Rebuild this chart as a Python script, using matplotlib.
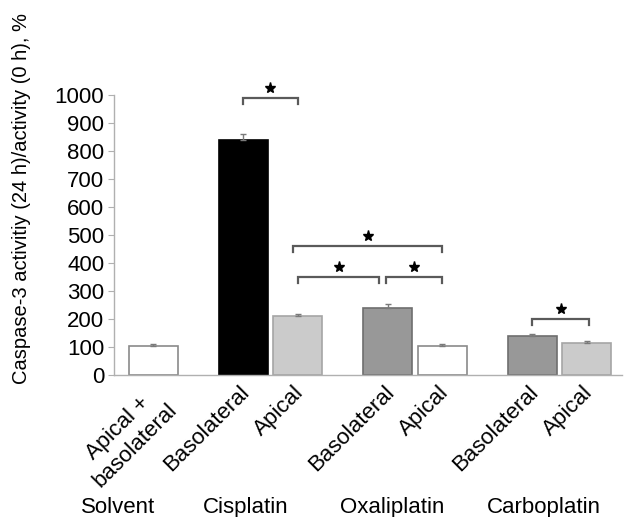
import matplotlib
matplotlib.use("Agg")
import matplotlib.pyplot as plt
import matplotlib.transforms as mtransforms

plt.rcParams['font.family'] = ['Liberation Sans', 'DejaVu Sans']

# ---- data ----
bar_labels = ["Apical +\nbasolateral", "Basolateral", "Apical",
              "Basolateral", "Apical", "Basolateral", "Apical"]
values = [105, 840, 210, 240, 102, 138, 113]
errors = [4, 20, 7, 13, 7, 8, 7]
group_labels = ["Solvent", "Cisplatin", "Oxaliplatin", "Carboplatin"]
yticks = [0, 100, 200, 300, 400, 500, 600, 700, 800, 900, 1000]
# significance brackets: (left bar, right bar, bracket height)
brackets = [(1, 2, 990), (2, 4, 462), (2, 3, 351), (3, 4, 351), (5, 6, 200)]

# ---- styles / layout ----
positions = [0, 1.65, 2.65, 4.3, 5.3, 6.95, 7.95]
face = ["#ffffff", "#000000", "#cbcbcb", "#989898", "#ffffff", "#989898", "#cbcbcb"]
edge = ["#8a8a8a", "#000000", "#a5a5a5", "#6e6e6e", "#8a8a8a", "#6e6e6e", "#a5a5a5"]
group_x = [-0.64, 1.69, 4.39, 7.16]
bracket_insets = [(0.0, 0.0), (-0.08, 0.0), (0.0, -0.15), (-0.03, 0.0), (0.0, 0.05)]

W, H = 632, 517
fig = plt.figure(figsize=(W / 100, H / 100), dpi=100)
ax = fig.add_axes([114 / W, 1 - 375 / H, (622 - 114) / W, 280 / H])

ax.bar(positions, values, width=0.9, color=face, edgecolor=edge, linewidth=1.2,
       zorder=2)
ax.errorbar(positions, values, yerr=[[0] * len(values), errors], fmt='none',
            ecolor="#7a7a7a", elinewidth=1.0, capsize=2.5, capthick=1.0, zorder=3)

ax.set_xlim(-0.72, 8.6)
ax.set_ylim(0, 1000)
ax.set_yticks(yticks)
ax.set_yticklabels([str(t) for t in yticks], fontsize=16)
ax.tick_params(axis='y', length=4, width=0.8, color="#b0b0b0", pad=3)
ax.set_xticks(positions)
ax.set_xticklabels([])
ax.tick_params(axis='x', length=0)
for s in ['top', 'right']:
    ax.spines[s].set_visible(False)
for s in ['left', 'bottom']:
    ax.spines[s].set_color("#b0b0b0")
    ax.spines[s].set_linewidth(1.0)

# rotated category labels
off = mtransforms.ScaledTranslation(-3 / 72, -5 / 72, fig.dpi_scale_trans)
for p, lab in zip(positions, bar_labels):
    ax.text(p, 0, lab, rotation=45, rotation_mode='anchor', ha='right', va='top',
            multialignment='center', fontsize=16,
            transform=ax.transData + off)

# group labels
for gx, g in zip(group_x, group_labels):
    fig.text(ax.transData.transform((gx, 0))[0] / W, 1 - 513 / H, g,
             ha='center', va='baseline', fontsize=16)

# significance brackets
tip = 22
for (i, j, h), (li, ri) in zip(brackets, bracket_insets):
    x1 = positions[i] + li
    x2 = positions[j] + ri
    ax.plot([x1, x1, x2, x2], [h - tip, h, h, h - tip], color="#5a5a5a", lw=1.6,
            clip_on=False, zorder=4, solid_joinstyle='miter')
    ax.plot([(x1 + x2) / 2], [h + 35], marker='*', color='black', markersize=8,
            clip_on=False, zorder=4, linestyle='none')

fig.text(22 / W, 1 - 199 / H, "Caspase-3 activitiy (24 h)/activity (0 h), %",
         rotation=90, ha='center', va='center', fontsize=14.5)

fig.savefig("out.png", dpi=100)
